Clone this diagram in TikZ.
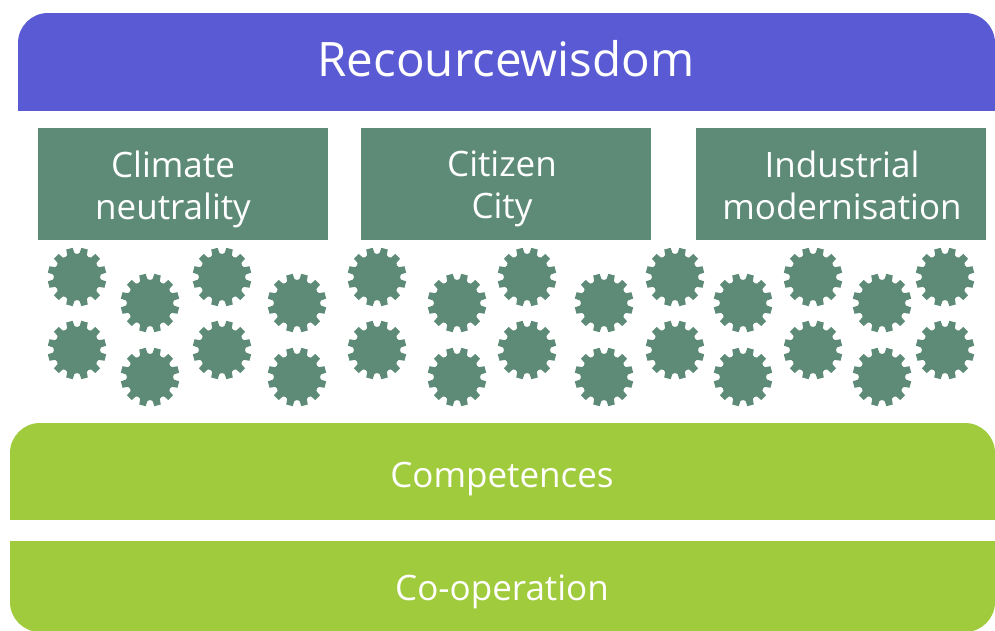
\documentclass[tikz,border=0pt]{standalone}
\usepackage{fontspec}
\setmainfont{Open Sans}
\usepackage{tikz}
\usetikzlibrary{positioning}
\definecolor{wisdom}{RGB}{90,91,212}
\definecolor{theme}{RGB}{93,139,120}
\definecolor{lime}{RGB}{160,203,61}
\tikzset{
  bartext/.style={text=white, anchor=base, font=\fontsize{35}{42}\selectfont},
  themebox/.style={fill=theme, minimum width=290pt, minimum height=112pt, inner sep=0pt},
  themetext/.style={text=white, align=center, font=\fontsize{35}{42}\selectfont},
  gear/.pic={
    \fill[theme] (0:23) \foreach \a in {15,45,...,345}{ -- ({\a-15}:23) -- ({\a-9}:24) -- ({\a-6.5}:29.5) -- ({\a+6.5}:29.5) -- ({\a+9}:24)} -- cycle;
  }
}
\begin{document}
\begin{tikzpicture}[x=1pt, y=-1pt]
    \useasboundingbox (0,0) rectangle (995,630);
    % top bar
    \begin{scope}
      \clip (0,0) rectangle (995,110);
      \fill[wisdom, rounded corners=30pt] (18,13) rectangle (995,170);
    \end{scope}
    \node[bartext, font=\fontsize{47.5}{56}\selectfont] (rw) at (506,76) {Recourcewisdom};
    % themes
    \node[themebox, label={[themetext, shift={(-10pt,-5pt)}]center:{Climate\\neutrality}}] (cn) at (183,184) {};
    \node[themebox, label={[themetext, shift={(-4pt,-5pt)}]center:{Citizen\\City}}] (cc) at (506,184) {};
    \node[themebox, label={[themetext, shift={(1pt,-5pt)}]center:{Industrial\\modernisation\vphantom{y}}}] (im) at (841,184) {};
    % gears
    \pic at (77,277) {gear}; \pic at (77,350) {gear};
    \pic at (150,303) {gear}; \pic at (150,377) {gear};
    \pic at (222,277) {gear}; \pic at (222,350) {gear};
    \pic at (297,303) {gear}; \pic at (297,377) {gear};
    \pic at (377,277) {gear}; \pic at (377,350) {gear};
    \pic at (457,303) {gear}; \pic at (457,377) {gear};
    \pic at (527,277) {gear}; \pic at (527,350) {gear};
    \pic at (604,303) {gear}; \pic at (604,377) {gear};
    \pic at (675,277) {gear}; \pic at (675,350) {gear};
    \pic at (743,303) {gear}; \pic at (743,377) {gear};
    \pic at (813,277) {gear}; \pic at (813,350) {gear};
    \pic at (882,303) {gear}; \pic at (882,377) {gear};
    \pic at (945,277) {gear}; \pic at (945,350) {gear};
    % base bars
    \begin{scope}
      \clip (0,0) rectangle (995,519);
      \fill[lime, rounded corners=30pt] (10,423) rectangle (995,600);
    \end{scope}
    \begin{scope}
      \clip (0,541) rectangle (995,630);
      \fill[lime, rounded corners=30pt] (10,480) rectangle (995,632);
    \end{scope}
    \node[bartext] (comp) at (502,487) {Competences};
    \node[bartext] (coop) at (502,600) {Co-operation};
\end{tikzpicture}
\end{document}
